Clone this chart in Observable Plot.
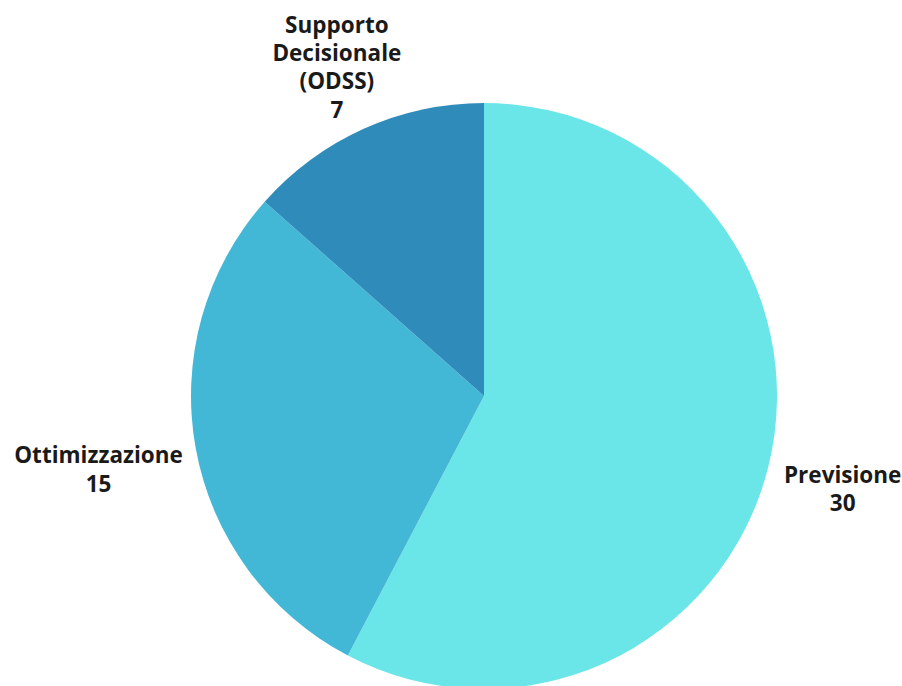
<!DOCTYPE html>
<html>
<head>
<meta charset="utf-8">
<script src="https://cdn.jsdelivr.net/npm/d3@7"></script>
<script src="https://cdn.jsdelivr.net/npm/@observablehq/plot@0.6"></script>
<style>
  html, body { margin: 0; padding: 0; background: #ffffff; overflow: hidden; }
  #chart { width: 902px; height: 686px; }
</style>
</head>
<body>
<div id="chart"></div>
<script>
// Data
const categories = ["Previsione", "Ottimizzazione", "Supporto\nDecisionale\n(ODSS)"];
const values = [30, 15, 7];
const colors = ["#6ae5e8", "#43b8d6", "#2e8bba"];

const data = categories.map((c, i) => ({ category: c, value: values[i], color: colors[i] }));
const arcs = d3.pie().sort(null).value(d => d.value)(data);

// Label anchor points on the mid-angle just outside the rim (data coords, y up)
const labelK = 1.02;
const labels = arcs.map(a => {
  const m = (a.startAngle + a.endAngle) / 2;
  return {
    text: a.data.category + "\n" + a.data.value,
    x: Math.sin(m) * labelK,
    y: Math.cos(m) * labelK,
    side: Math.abs(Math.sin(m)) < 0.5 ? "top" : (Math.sin(m) > 0 ? "right" : "left")
  };
});

const W = 902, H = 686;
const cx = 484, cy = 396, R = 293;

const pieMark = (index, scales) => {
  const x0 = scales.x(0), y0 = scales.y(0);
  const r = scales.x(1) - scales.x(0);
  const g = d3.create("svg:g");
  const arcGen = d3.arc().innerRadius(0).outerRadius(r);
  g.selectAll("path")
    .data(arcs)
    .join("path")
    .attr("transform", `translate(${x0},${y0})`)
    .attr("d", arcGen)
    .attr("fill", d => d.data.color);
  return g.node();
};

const textStyle = {
  fontFamily: "'Open Sans', sans-serif",
  fontWeight: 700,
  fontSize: 22.5,
  lineHeight: 1.26,
  fill: "#1a1a1a",
  textAnchor: "middle",
  lineAnchor: "middle"
};

const plot = Plot.plot({
  width: W,
  height: H,
  marginLeft: cx - R,
  marginRight: W - (cx + R),
  marginTop: cy - R,
  marginBottom: 0,
  x: { domain: [-1, 1], axis: null },
  y: { domain: [-(H - cy) / R, 1], axis: null },
  style: { background: "#ffffff", overflow: "hidden" },
  marks: [
    pieMark,
    Plot.text(labels.filter(d => d.side === "right"), {
      x: "x", y: "y", text: "text", dx: 68, dy: 20, ...textStyle
    }),
    Plot.text(labels.filter(d => d.side === "left"), {
      x: "x", y: "y", text: "text", dx: -92, dy: 18, ...textStyle
    }),
    Plot.text(labels.filter(d => d.side === "top"), {
      x: "x", y: "y", text: "text", dx: -25, dy: -58, ...textStyle
    })
  ]
});

document.getElementById("chart").appendChild(plot);
</script>
</body>
</html>
